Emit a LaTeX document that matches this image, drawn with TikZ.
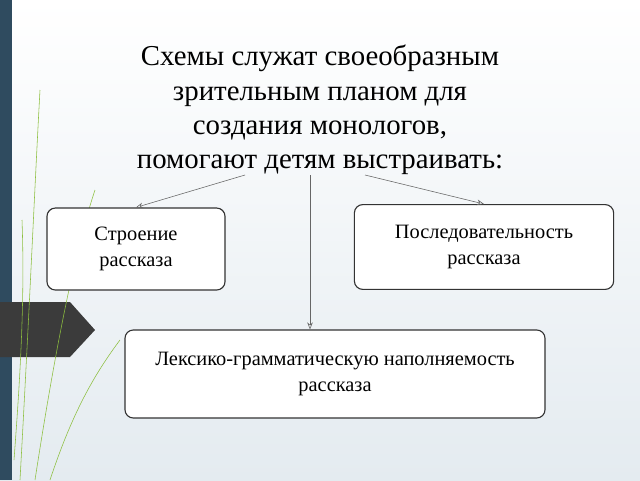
\documentclass[tikz,border=0pt]{standalone}
\usepackage{fontspec}
\setmainfont{Liberation Serif}
\usetikzlibrary{arrows.meta}
\definecolor{stripblue}{HTML}{2F4B5F}
\definecolor{arrowgrey}{HTML}{3B3B3B}
\definecolor{leafgreen}{HTML}{8DBF3F}
\definecolor{slidebg}{HTML}{E4EBF0}
\tikzset{
  textbox/.style = {draw = black!80, fill = white, rounded corners = 6pt, thick, align = center, font = \fontsize{14.5}{18.5}\selectfont},
  link/.style = {draw = black!60, -{Stealth[length = 5pt, width = 4pt, open]}}
}
\begin{document}
\begin{tikzpicture}[x = 0.025cm, y = -0.025cm]
      % slide background
      \shade[top color = white, bottom color = slidebg] (0, 0) rectangle (640, 480);
      \fill[stripblue] (0, 0) rectangle (12, 480);
      \fill[arrowgrey] (0, 302) -- (70, 302) -- (95, 330) -- (70, 357) -- (0, 357) -- cycle;
      % green lines
      \draw[leafgreen, thin] (20, 480) .. controls (30, 300) and (35, 180) .. (40, 90);
      \draw[leafgreen, thin] (35, 480) .. controls (55, 350) and (75, 250) .. (95, 190);
      \draw[leafgreen, thin] (14, 460) .. controls (20, 380) and (25, 300) .. (22, 220);
      \draw[leafgreen, thin] (50, 480) .. controls (70, 420) and (90, 380) .. (120, 340);
      % title
      \node[align = center, font = \fontsize{20.5}{24.5}\selectfont] (title) at (320, 110)
        {Схемы служат своеобразным\\зрительным планом для\\создания монологов,\\помогают детям выстраивать:};
      % boxes
      \node[textbox, minimum width = 4.45cm, minimum height = 2.05cm] (structure) at (136, 249) {Строение\\рассказа};
      \node[textbox, minimum width = 6.48cm, minimum height = 2.12cm] (order) at (484, 247) {Последовательность\\рассказа};
      \node[textbox, minimum width = 10.5cm, minimum height = 2.2cm] (lexis) at (335, 374) {Лексико-грамматическую наполняемость\\рассказа};
      % connectors
      \coordinate (fromleft) at (245, 175);
      \coordinate (frommid) at (310, 175);
      \coordinate (fromright) at (365, 175);
      \draw[link] (fromleft) -- (structure.north);
      \draw[link] (frommid) -- (lexis.north -| frommid);
      \draw[link] (fromright) -- (order.north);
\end{tikzpicture}
\end{document}
